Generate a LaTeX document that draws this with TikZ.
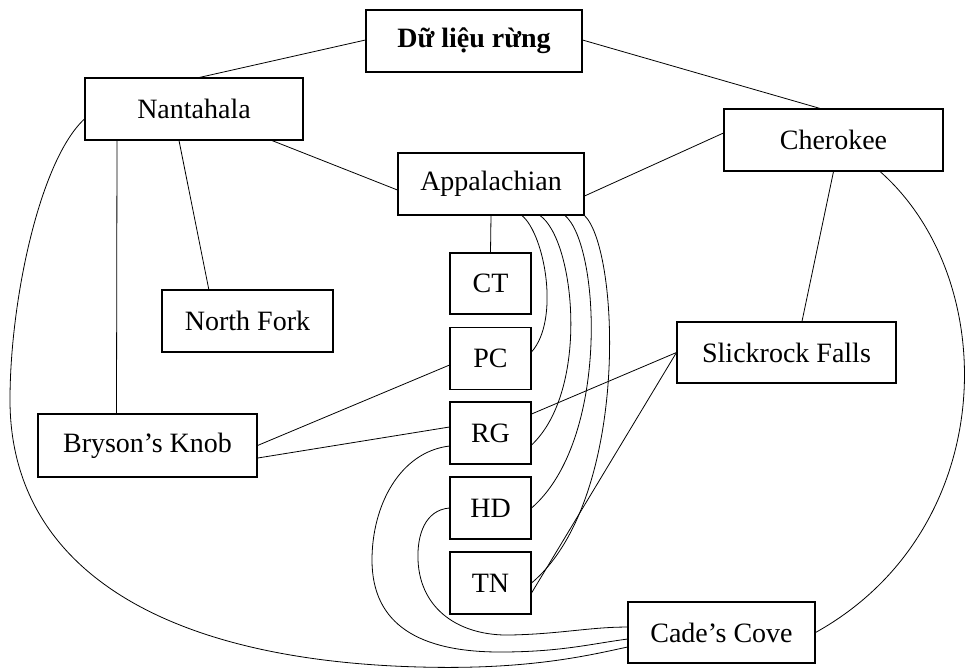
\documentclass[tikz,border=0pt]{standalone}
\usepackage{fontspec}
\setmainfont{Liberation Serif}
\begin{document}
\begin{tikzpicture}[x=0.75pt,y=-0.75pt,
  box/.style={draw,line width=0.8pt,rectangle,inner sep=0pt,font=\fontsize{21}{24}\selectfont},
  edge/.style={line width=0.6pt}]
\useasboundingbox (0,0) rectangle (971,669);
\node[box,minimum width=216*0.75pt,minimum height=62*0.75pt,font=\fontsize{21}{24}\selectfont\bfseries] (data) at (474,41) {Dữ liệu rừng};
\node[box,minimum width=218*0.75pt,minimum height=62*0.75pt] (nant) at (194,109) {Nantahala};
\node[box,minimum width=219*0.75pt,minimum height=62*0.75pt] (cher) at (833.5,140) {Cherokee};
\node[box,minimum width=186*0.75pt,minimum height=62*0.75pt] (app) at (491,184) {Appalachian};
\node[box,minimum width=81*0.75pt,minimum height=61*0.75pt] (ct) at (490.5,283.5) {CT};
\node[box,minimum width=171*0.75pt,minimum height=62*0.75pt] (nf) at (247.5,321) {North Fork};
\node[box,minimum width=81*0.75pt,minimum height=62*0.75pt] (pc) at (490.5,358.5) {PC};
\node[box,minimum width=219*0.75pt,minimum height=61*0.75pt] (slick) at (786.5,352.5) {Slickrock Falls};
\node[box,minimum width=81*0.75pt,minimum height=62*0.75pt] (rg) at (490.5,433) {RG};
\node[box,minimum width=219*0.75pt,minimum height=63*0.75pt] (bk) at (147.5,445.5) {Bryson’s Knob};
\node[box,minimum width=81*0.75pt,minimum height=62*0.75pt] (hd) at (490.5,508) {HD};
\node[box,minimum width=81*0.75pt,minimum height=62*0.75pt] (tn) at (490.5,583) {TN};
\node[box,minimum width=187*0.75pt,minimum height=61*0.75pt] (cc) at (721.5,632.5) {Cade’s Cove};

% straight connectors
\draw[edge] ([xshift=4pt]nant.north) -- ([yshift=0.75pt]data.west);
\draw[edge] ([yshift=0.75pt]data.east) -- ([xshift=-10pt]cher.north);
\draw[edge] ([xshift=58.5pt]nant.south) -- ([yshift=-4.5pt]app.west);
\draw[edge] ([xshift=-5.25pt]cher.west) ++(5.25pt,5.25pt) -- ([yshift=-9pt]app.east);
\draw[edge] (app.south) -- (ct.north);
\draw[edge] ([xshift=-57.75pt]nant.south) -- ([xshift=-23.25pt]bk.north);
\draw[edge] ([xshift=-11.25pt]nant.south) -- ([xshift=-29pt]nf.north);
\draw[edge] (cher.south) -- ([xshift=11.6pt]slick.north);
\draw[edge] (bk.east) -- ([yshift=-4.9pt]pc.west);
\draw[edge] ([yshift=-9.4pt]bk.east) -- ([yshift=4.5pt]pc.west |- rg.west);
\draw[edge] ([yshift=14.25pt]rg.east) -- (slick.west);
\draw[edge] ([yshift=-7.5pt]tn.east) -- (slick.west);

% curved connectors from Appalachian
\draw[edge] ([xshift=23.25pt]app.south) .. controls (545,235) and (560,320) .. ([yshift=4.9pt]pc.east);
\draw[edge] ([xshift=36.75pt]app.south) .. controls (575,240) and (590,390) .. ([yshift=-9pt]rg.east);
\draw[edge] ([xshift=55.5pt]app.south) .. controls (600,245) and (610,440) .. (hd.east);
\draw[edge] (app.south east) .. controls (620,250) and (630,500) .. (tn.east);

% curves into Cade's Cove
\draw[edge] ([yshift=-9.75pt]rg.west) .. controls (400,452) and (372,505) .. (372,560)
   .. controls (372,625) and (420,652) .. (500,652)
   .. controls (560,652) and (590,644) .. ([yshift=-4.9pt]cc.west);
\draw[edge] (hd.west) .. controls (425,510) and (417,535) .. (418,560)
   .. controls (420,610) and (460,636) .. (510,635)
   .. controls (560,634) and (590,627) .. ([yshift=4.1pt]cc.west);
\draw[edge] ([yshift=-7.5pt]nant.west) .. controls (40,160) and (10,300) .. (10,400)
   .. controls (10,560) and (150,660) .. (420,667)
   .. controls (530,670) and (590,655) .. ([yshift=-10.9pt]cc.west);
\draw[edge] ([xshift=-47.6pt]cher.south east) .. controls (1003,280) and (1000,530) .. (cc.east);
\end{tikzpicture}
\end{document}
